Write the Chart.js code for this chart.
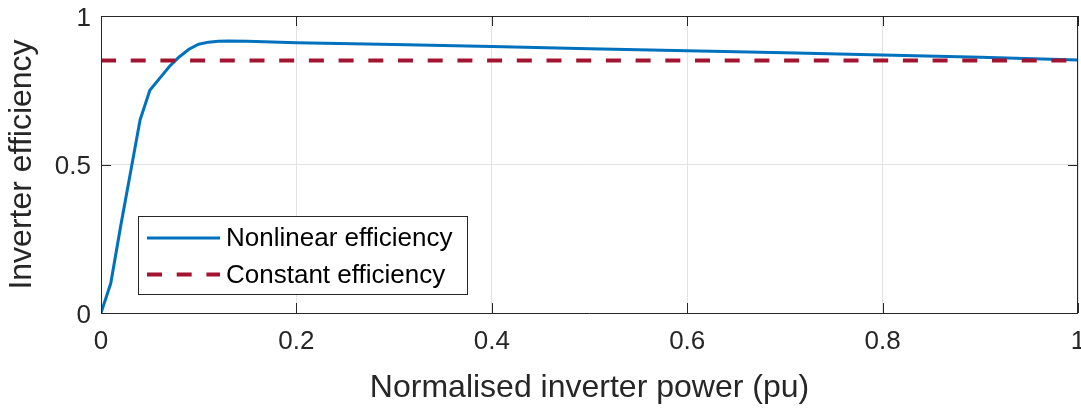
<!DOCTYPE html>
<html>
<head>
<meta charset="utf-8">
<script src="https://cdn.jsdelivr.net/npm/chart.js@4.4.1/dist/chart.umd.min.js"></script>
<style>
  html, body { margin: 0; padding: 0; background: #ffffff; }
  #wrap { width: 1081px; height: 409px; }
</style>
</head>
<body>
<div id="wrap"><canvas id="c" width="1081" height="409"></canvas></div>
<script>
// ---- data ----
const powerPu = [0, 0.01, 0.02, 0.03, 0.04, 0.05, 0.06, 0.07, 0.08, 0.09, 0.10, 0.11, 0.12, 0.13, 0.15, 0.2, 0.3, 0.4, 0.5, 0.6, 0.7, 0.8, 0.9, 1.0];
const nonlinearEff = [0, 0.10, 0.29, 0.47, 0.65, 0.75, 0.79, 0.83, 0.862, 0.888, 0.905, 0.912, 0.915, 0.916, 0.915, 0.910, 0.904, 0.897, 0.890, 0.883, 0.876, 0.869, 0.861, 0.852];
const constPu = [0, 1];
const constEff = [0.85, 0.85];
const seriesNames = ['Nonlinear efficiency', 'Constant efficiency'];
const xTickValues = [0, 0.2, 0.4, 0.6, 0.8, 1];
const xTickLabels = ['0', '0.2', '0.4', '0.6', '0.8', '1'];
const yTickValues = [0, 0.5, 1];
const yTickLabels = ['0', '0.5', '1'];
const xTitle = 'Normalised inverter power (pu)';
const yTitle = 'Inverter efficiency';

const FONT = '"Liberation Sans", Arial, Helvetica, sans-serif';
const AXIS_COLOR = '#262626';

// inward ticks + box, like MATLAB axes
const boxPlugin = {
  id: 'boxTicks',
  afterDatasetsDraw(chart) {
    const { ctx, chartArea: a, scales } = chart;
    ctx.save();
    ctx.strokeStyle = AXIS_COLOR;
    ctx.lineWidth = 1;
    ctx.beginPath();
    ctx.rect(a.left + 0.5, a.top + 0.5, a.right - a.left - 1, a.bottom - a.top);
    const tl = 10;
    xTickValues.forEach(v => {
      const px = Math.round(scales.x.getPixelForValue(v)) + 0.5;
      ctx.moveTo(px, a.bottom); ctx.lineTo(px, a.bottom - tl);
      ctx.moveTo(px, a.top); ctx.lineTo(px, a.top + tl);
    });
    yTickValues.forEach(v => {
      const py = Math.round(scales.y.getPixelForValue(v)) + 0.5;
      ctx.moveTo(a.left, py); ctx.lineTo(a.left + tl, py);
      ctx.moveTo(a.right, py); ctx.lineTo(a.right - tl, py);
    });
    ctx.stroke();
    ctx.restore();
  }
};

// boxed legend inside the plot area
const legendPlugin = {
  id: 'boxLegend',
  afterDraw(chart) {
    const { ctx, chartArea: a } = chart;
    const left = a.left + 37, bottom = a.bottom - 19;
    const w = 329, h = 78;
    const top = bottom - h;
    ctx.save();
    ctx.fillStyle = '#ffffff';
    ctx.fillRect(left, top, w, h);
    ctx.strokeStyle = AXIS_COLOR;
    ctx.lineWidth = 1;
    ctx.strokeRect(left + 0.5, top + 0.5, w, h);
    const rows = [top + 22, top + 58.5];
    chart.data.datasets.forEach((ds, i) => {
      const y = rows[i];
      ctx.beginPath();
      ctx.strokeStyle = ds.borderColor;
      ctx.lineWidth = ds.borderWidth;
      ctx.setLineDash(ds.borderDash || []);
      ctx.moveTo(left + 9, y);
      ctx.lineTo(left + 82, y);
      ctx.stroke();
      ctx.setLineDash([]);
      ctx.fillStyle = '#000000';
      ctx.font = '26px ' + FONT;
      ctx.textAlign = 'left';
      ctx.textBaseline = 'middle';
      ctx.fillText(ds.label, left + 88, y + 1);
    });
    ctx.restore();
  }
};

const toXY = (xs, ys) => xs.map((x, i) => ({ x: x, y: ys[i] }));
const zeroPad = s => { s.paddingTop = 0; s.paddingBottom = 0; s.paddingLeft = 0; s.paddingRight = 0; };

new Chart(document.getElementById('c'), {
  type: 'line',
  data: {
    datasets: [
      {
        label: seriesNames[0],
        data: toXY(powerPu, nonlinearEff),
        borderColor: '#0072BD',
        borderWidth: 3,
        pointRadius: 0,
        tension: 0,
        fill: false,
        order: 2
      },
      {
        label: seriesNames[1],
        data: toXY(constPu, constEff),
        borderColor: '#A2142F',
        borderWidth: 4,
        borderDash: [15, 14.7],
        borderCapStyle: 'butt',
        pointRadius: 0,
        tension: 0,
        fill: false,
        order: 1
      }
    ]
  },
  options: {
    responsive: false,
    devicePixelRatio: 1,
    animation: false,
    events: [],
    layout: { padding: { left: 0, right: 3, top: 16, bottom: 0 } },
    plugins: {
      legend: { display: false },
      tooltip: { enabled: false },
      title: { display: false }
    },
    scales: {
      x: {
        type: 'linear',
        min: 0, max: 1,
        afterBuildTicks: s => { s.ticks = xTickValues.map(v => ({ value: v })); },
        afterFit: s => { s.height = 96; zeroPad(s); },
        ticks: {
          callback: (v, i) => xTickLabels[i],
          font: { family: FONT, size: 26 },
          color: AXIS_COLOR,
          padding: 13,
          maxRotation: 0,
          autoSkip: false
        },
        grid: { color: '#e3e3e3', lineWidth: 1, drawTicks: false },
        border: { display: false },
        title: {
          display: true,
          text: xTitle,
          font: { family: FONT, size: 32 },
          color: AXIS_COLOR,
          padding: { top: 0, bottom: 2 }
        }
      },
      y: {
        type: 'linear',
        min: 0, max: 1,
        afterBuildTicks: s => { s.ticks = yTickValues.map(v => ({ value: v })); },
        afterFit: s => { s.width = 101; zeroPad(s); },
        ticks: {
          callback: (v, i) => yTickLabels[i],
          font: { family: FONT, size: 26 },
          color: AXIS_COLOR,
          padding: 10,
          labelOffset: 2.5,
          autoSkip: false
        },
        grid: { color: '#e3e3e3', lineWidth: 1, drawTicks: false },
        border: { display: false },
        title: {
          display: true,
          text: yTitle,
          font: { family: FONT, size: 32 },
          color: AXIS_COLOR,
          padding: { top: 3, bottom: 0 }
        }
      }
    }
  },
  plugins: [boxPlugin, legendPlugin]
});
</script>
</body>
</html>
